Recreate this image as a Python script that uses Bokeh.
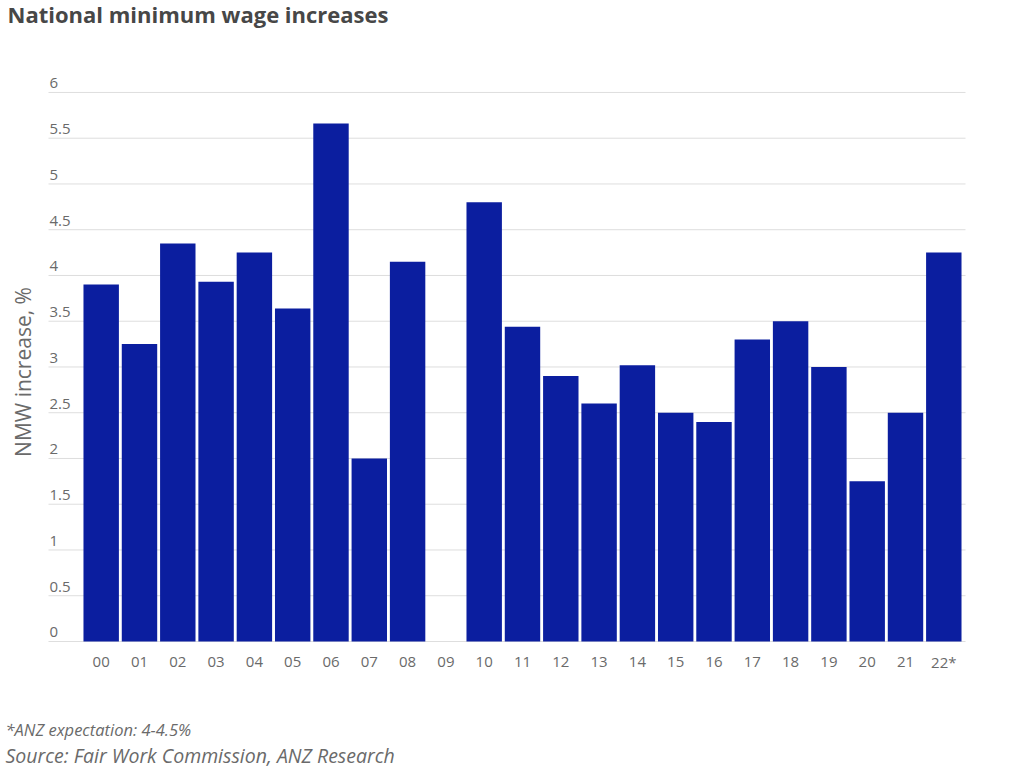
import math
from bokeh.plotting import figure
from bokeh.models import Range1d
from bokeh.core.properties import value
from bokeh.embed import file_html
from bokeh.resources import INLINE

categories = ["00", "01", "02", "03", "04", "05", "06", "07", "08", "09", "10", "11",
              "12", "13", "14", "15", "16", "17", "18", "19", "20", "21", "22*"]
increases = [3.9, 3.25, 4.35, 3.93, 4.25, 3.64, 5.66, 2.0, 4.15, 0.0, 4.8, 3.44,
             2.9, 2.6, 3.02, 2.5, 2.4, 3.3, 3.5, 3.0, 1.75, 2.5, 4.25]
y_ticks = [0, 0.5, 1, 1.5, 2, 2.5, 3, 3.5, 4, 4.5, 5, 5.5, 6]
y_tick_labels = ["0", "0.5", "1", "1.5", "2", "2.5", "3", "3.5", "4", "4.5", "5", "5.5", "6"]

FONT = value("Open Sans")
BAR = "#0b1e9f"
GRID = "#dedede"
TXT = "#6a6a6a"

W, H = 1024, 769
# layout: full-canvas frame, data ranges chosen so that the plot area sits where the reference has it
x_start, x_end = -2.629, 24.107
y_start, y_end = -1.399, 7.005
grid_x0, grid_x1 = -1.376, 22.567

p = figure(width=W, height=H, output_backend="svg", toolbar_location=None,
           x_range=Range1d(x_start, x_end), y_range=Range1d(y_start, y_end),
           min_border=0)
p.outline_line_color = None
p.axis.visible = False
p.grid.visible = False
p.background_fill_color = "white"
p.border_fill_color = "white"

xs = list(range(len(categories)))

# grid lines
p.segment(x0=[grid_x0] * len(y_ticks), x1=[grid_x1] * len(y_ticks), y0=y_ticks, y1=y_ticks,
          line_color=GRID, line_width=1)

# bars
p.vbar(x=xs, top=increases, bottom=0, width=0.925, fill_color=BAR, line_color=None)

# y tick labels above grid lines
p.text(x=[grid_x0] * len(y_ticks), y=y_ticks, text=y_tick_labels,
       x_offset=1, y_offset=-9, text_baseline="alphabetic", text_align="left",
       text_font=FONT, text_font_size="15px", text_color=TXT)

# x category labels
p.text(x=xs, y=[0] * len(xs), text=categories, y_offset=21,
       text_baseline="alphabetic", text_align="center",
       text_font=FONT, text_font_size="15px", text_color=TXT)

# y axis title
p.text(x=[x_start], y=[(y_ticks[0] + y_ticks[-1]) / 2], text=["NMW increase, %"],
       x_offset=22, y_offset=5, angle=math.pi / 2,
       text_baseline="alphabetic", text_align="center",
       text_font=FONT, text_font_size="21px", text_color=TXT)

# title
p.text(x=[x_start], y=[y_end], text=["National minimum wage increases"],
       x_offset=7, y_offset=13, text_baseline="alphabetic", text_align="left",
       text_font=FONT, text_font_size="22px", text_font_style="bold", text_color="#474747")

# footnotes
p.text(x=[x_start], y=[y_start], text=["*ANZ expectation: 4-4.5%"],
       x_offset=5, y_offset=-40, text_baseline="alphabetic", text_align="left",
       text_font=FONT, text_font_size="16.5px", text_font_style="italic", text_color=TXT)
p.text(x=[x_start], y=[y_start], text=["Source: Fair Work Commission, ANZ Research"],
       x_offset=5, y_offset=-14, text_baseline="alphabetic", text_align="left",
       text_font=FONT, text_font_size="19.5px", text_font_style="italic", text_color=TXT)

open("out.html", "w").write(file_html(p, INLINE))
